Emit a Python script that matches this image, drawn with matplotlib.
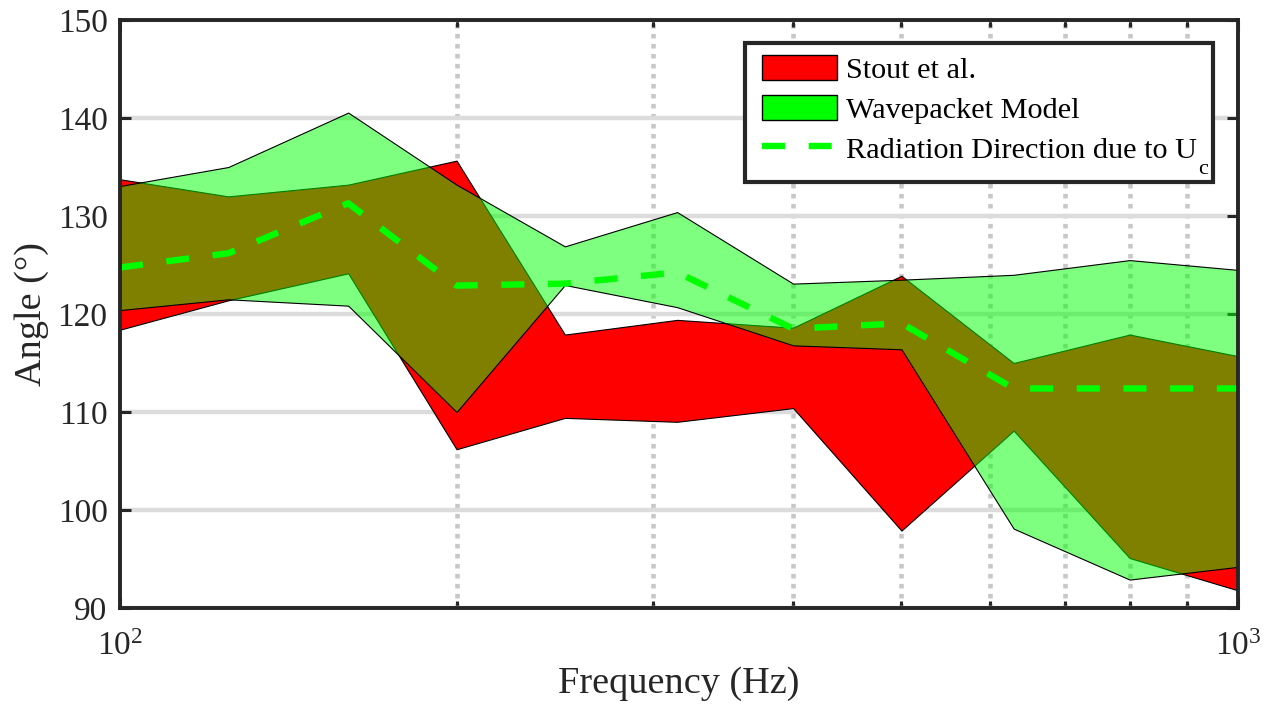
import matplotlib
matplotlib.use("Agg")
import matplotlib.pyplot as plt
from matplotlib.patches import Patch, Rectangle
from matplotlib.lines import Line2D
from matplotlib.ticker import FixedLocator, NullFormatter

plt.rcParams['font.family'] = ['Liberation Serif', 'DejaVu Serif']
plt.rcParams['mathtext.fontset'] = 'custom'
plt.rcParams['mathtext.rm'] = 'Liberation Serif'
plt.rcParams['mathtext.it'] = 'Liberation Serif:italic'
plt.rcParams['lines.scale_dashes'] = False

# ---- data ----
freqs = [100, 125, 160, 200, 250, 315, 400, 500, 630, 800, 1000]
stout_upper = [133.75, 132.0, 133.2, 135.65, 117.9, 119.4, 118.6, 123.9, 115.0, 117.9, 115.7]
stout_lower = [118.4, 121.4, 124.15, 106.2, 109.4, 109.0, 110.4, 97.9, 108.1, 95.1, 91.8]
wp_upper = [133.06, 135.0, 140.55, 133.2, 126.9, 130.4, 123.1, 123.5, 124.0, 125.5, 124.5]
wp_lower = [120.4, 121.5, 120.85, 110.0, 122.96, 120.7, 116.8, 116.4, 98.1, 92.9, 94.2]
uc_direction = [124.75, 126.2, 131.3, 122.9, 123.1, 124.25, 118.5, 119.05, 112.4, 112.4, 112.4]

labels = ['Stout et al.', 'Wavepacket Model', 'Radiation Direction due to U']
label_subscript = 'c'
x_label = 'Frequency (Hz)'
y_label = 'Angle (°)'
y_ticks = [90, 100, 110, 120, 130, 140, 150]

dark = '#262626'
W, H = 1271, 719
AX_L, AX_T, AX_W, AX_H = 120, 20, 1118, 588   # axes box in pixels (from top-left)

def ax_frac(px, py):
    """pixel position (from top-left of figure) -> axes fraction"""
    return (px - AX_L) / AX_W, (AX_T + AX_H - py) / AX_H

fig = plt.figure(figsize=(W / 100, H / 100), dpi=100)
ax = fig.add_axes([AX_L / W, (H - AX_T - AX_H) / H, AX_W / W, AX_H / H])

ax.fill_between(freqs, stout_upper, stout_lower, facecolor=(1, 0, 0),
                edgecolor='k', linewidth=0.8, zorder=2)
ax.fill_between(freqs, wp_upper, wp_lower, facecolor=(0, 1, 0, 0.5),
                edgecolor=(0, 0, 0, 1), linewidth=0.8, zorder=3)
ax.plot(freqs, uc_direction, color=(0, 1, 0), linewidth=4.6,
        dashes=(16.6, 17.0), zorder=4)

ax.set_xscale('log')
ax.set_xlim(100, 1000)
ax.set_ylim(90, 150)
ax.set_yticks(y_ticks)
ax.xaxis.set_major_locator(FixedLocator([100, 1000]))
ax.xaxis.set_minor_locator(FixedLocator([200, 300, 400, 500, 600, 700, 800, 900]))
ax.xaxis.set_minor_formatter(NullFormatter())

ax.set_axisbelow(True)
ax.grid(True, axis='y', which='major', color='#dcdcdc', linewidth=3.2, linestyle='-')
ax.grid(True, axis='x', which='minor', color='#c8c8c8', linewidth=3.3,
        linestyle=(0, (3.3, 3.9)))

ax.tick_params(which='both', direction='in', top=True, right=True,
               colors=dark, labelcolor=dark, width=2.2)
ax.tick_params(which='major', length=8, labelsize=24, pad=9)
ax.tick_params(which='minor', length=5)
ax.tick_params(axis='x', which='major', pad=17)

for s in ax.spines.values():
    s.set_linewidth(2.8)
    s.set_color(dark)
    s.set_zorder(6)

ax.set_xlabel(x_label, fontsize=27.5, color=dark, labelpad=3)
ax.set_ylabel(y_label, fontsize=27.5, color=dark, labelpad=6)

# legend frame (drawn separately so it can include the lowered subscript)
fx0, fy1 = ax_frac(745, 43)
fx1, fy0 = ax_frac(1213, 182)
frame = Rectangle((fx0, fy0), fx1 - fx0, fy1 - fy0, transform=ax.transAxes,
                  facecolor='white', edgecolor=dark, linewidth=3.0,
                  clip_on=False, zorder=9)
ax.add_patch(frame)

handles = [Patch(facecolor=(1, 0, 0), edgecolor='k', linewidth=1.0),
           Patch(facecolor=(0, 1, 0), edgecolor='k', linewidth=1.0),
           Line2D([], [], color=(0, 1, 0), linewidth=4.6, dashes=(16.6, 17.0))]
lx, ly = ax_frac(762, 55)
leg = ax.legend(handles, labels, loc='upper left', bbox_to_anchor=(lx, ly),
                borderaxespad=0, borderpad=0, fontsize=21.8, frameon=False,
                handlelength=2.47, handleheight=0.9, handletextpad=0.3,
                labelspacing=0.36)
leg.set_zorder(10)
for t in leg.get_texts():
    t.set_color('k')

# lowered subscript "c" after the last legend label (MATLAB-style subscript)
fig.canvas.draw()
renderer = fig.canvas.get_renderer()
txt = leg.get_texts()[2]
bb = txt.get_window_extent(renderer)
prop = txt.get_fontproperties()
w_lab, _, _ = renderer.get_text_width_height_descent(labels[2], prop, ismath=False)
_, _, d_lp = renderer.get_text_width_height_descent('lp', prop, ismath=False)
baseline = bb.y0 + d_lp
cx, cy = ax.transAxes.inverted().transform((bb.x0 + w_lab + 1.5, baseline - 16.5))
ax.text(cx, cy, label_subscript, transform=ax.transAxes, fontsize=16, color='k',
        ha='left', va='baseline', zorder=11, clip_on=False)

fig.savefig('out.png', dpi=100)
